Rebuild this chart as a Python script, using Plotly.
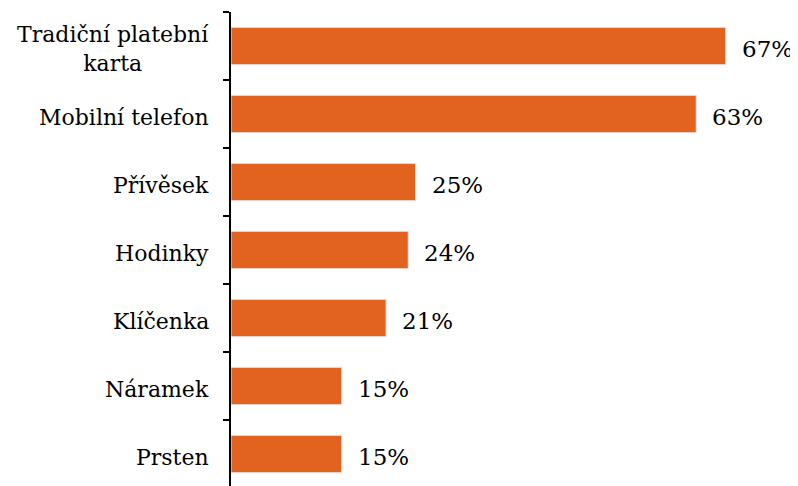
import plotly.graph_objects as go

categories = ["Tradiční platební<br>karta", "Mobilní telefon", "Přívěsek", "Hodinky",
              "Klíčenka", "Náramek", "Prsten"]
values = [67, 63, 25, 24, 21, 15, 15]
value_labels = ["67%", "63%", "25%", "24%", "21%", "15%", "15%"]

FONT = "DejaVu Serif"
BAR_COLOR = "#E2621F"

fig = go.Figure(go.Bar(
    x=values, y=categories, orientation="h",
    marker=dict(color=BAR_COLOR, line=dict(color="#E6E6E6", width=1)),
    hoverinfo="skip",
))

annotations = []
for c, v, t in zip(categories, values, value_labels):
    annotations.append(dict(x=v, y=c, xref="x", yref="y", text=t, showarrow=False,
                            xanchor="left", xshift=14, yshift=-3,
                            font=dict(family=FONT, size=23, color="black")))
    annotations.append(dict(x=0, y=c, xref="paper", yref="y", text=c, showarrow=False,
                            xanchor="right", xshift=-20, yshift=-3, align="center",
                            font=dict(family=FONT, size=22, color="black")))

fig.update_layout(
    width=798, height=486,
    margin=dict(l=223, r=16, t=4, b=6),
    paper_bgcolor="white", plot_bgcolor="white",
    font=dict(family=FONT),
    showlegend=False,
    bargap=0.45,
    annotations=annotations,
    xaxis=dict(range=[0, 75.7], visible=False, fixedrange=True),
    yaxis=dict(type="category", range=[6.5, -0.5], tickson="boundaries",
               ticks="outside", ticklen=6, tickwidth=1.5, tickcolor="black",
               showline=True, linecolor="black", linewidth=2,
               showticklabels=False, showgrid=False, zeroline=False, fixedrange=True),
)

fig.write_html("out.html")
